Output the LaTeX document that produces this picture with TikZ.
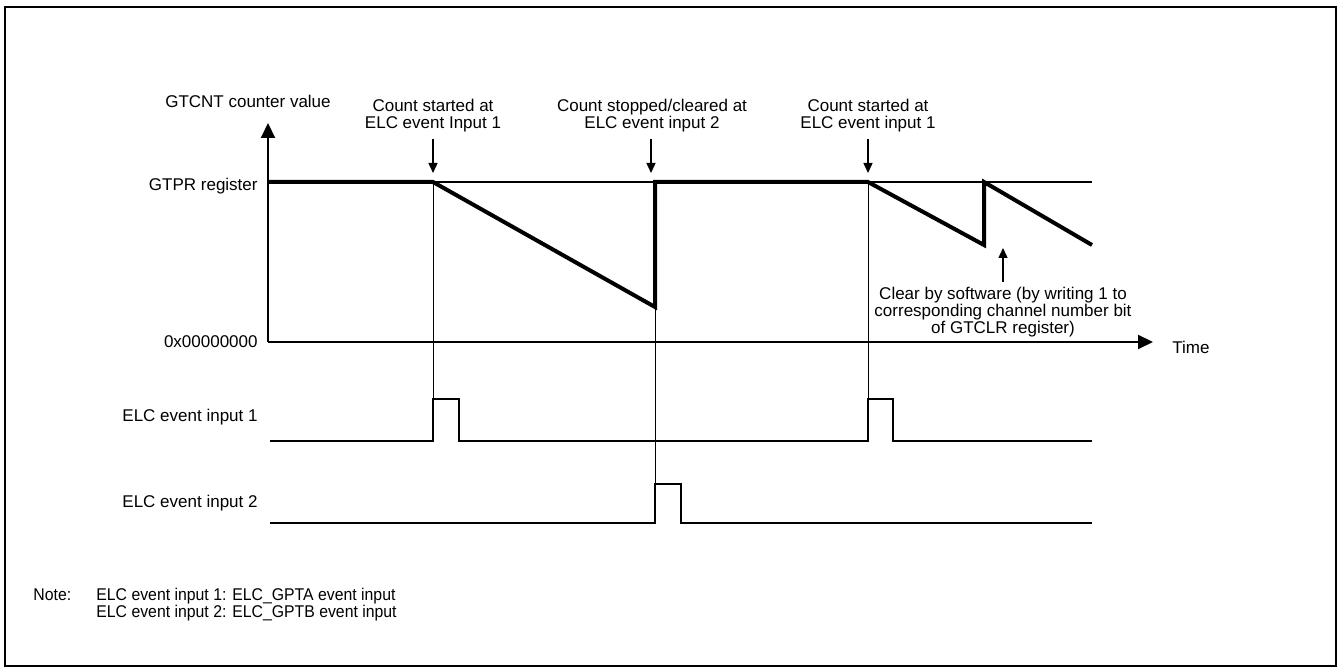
\documentclass[tikz,border=0pt]{standalone}
\usepackage{fontspec}
\setmainfont{Liberation Sans}
\newfontfamily\narrowfont[FakeStretch=0.93]{Liberation Sans}
\usetikzlibrary{arrows.meta}
\begin{document}
\begin{tikzpicture}[x=0.5pt,y=-0.5pt,
  lbl/.style={font=\fontsize{8.5}{8.6}\selectfont, inner sep=0pt, align=center},
  notelbl/.style={font=\narrowfont\fontsize{8.5}{8.2}\selectfont, inner sep=0pt, align=left},
  axis/.style={line width=1pt, -{Triangle[length=7.5pt,width=7pt]}},
  wave/.style={line width=2pt, line join=miter},
  pulse/.style={line width=1pt, line join=miter},
  guide/.style={line width=0.5pt},
  dn/.style={line width=0.7pt, -{Triangle[length=5pt,width=4.5pt]}}]
\useasboundingbox (0,0) rectangle (1338,668);
\draw[line width=0.8pt] (5,7) rectangle (1336,666);

% left labels
\node[lbl] (ylab) at (248,101) {GTCNT counter value};
\node[lbl,anchor=east] (gtpr) at (258,186) {GTPR register};
\node[lbl,anchor=east] (zero) at (258,342) {0x00000000};
\node[lbl,anchor=east] (ev1) at (258,417) {ELC event input 1};
\node[lbl,anchor=east] (ev2) at (258,503) {ELC event input 2};
\node[lbl,anchor=west] (time) at (1172,347) {Time};

% top labels
\node[lbl] (c1) at (433,116) {Count started at\\ELC event Input 1};
\node[lbl] (c2) at (652,116) {Count stopped/cleared at\\ELC event input 2};
\node[lbl] (c3) at (868,116) {Count started at\\ELC event input 1};
\node[lbl] (clr) at (1003,312) {Clear by software (by writing 1 to\\corresponding channel number bit\\of GTCLR register)};

% coordinates
\coordinate (o) at (268,342);
\coordinate (ytop) at (268,123);
\coordinate (xend) at (1153,342);
\coordinate (a1) at (433,139); \coordinate (a1e) at (433,173);
\coordinate (a2) at (651,139); \coordinate (a2e) at (651,173);
\coordinate (a3) at (868,139); \coordinate (a3e) at (868,173);
\coordinate (u1) at (1003,282); \coordinate (u1e) at (1003,248);

% axes
\draw[axis] (o) -- (ytop);
\draw[axis] (o) -- (xend);

% GTPR level
\draw[line width=0.6pt] (268,182) -- (1092,182);

% counter waveform
\draw[wave] (268,182) -- (433,182) -- (655,307) -- (655,182) -- (868,182)
  -- (984,245) -- (984,182) -- (1092,245);

% guide lines
\draw[guide] (433,182) -- (433,399);
\draw[guide] (655,307) -- (655,484);
\draw[guide] (868,182) -- (868,399);

% event pulses
\draw[pulse] (270,441) -- (433,441) -- (433,399) -- (459,399) -- (459,441)
  -- (868,441) -- (868,399) -- (893,399) -- (893,441) -- (1092,441);
\draw[pulse] (270,523) -- (655,523) -- (655,484) -- (681,484) -- (681,523) -- (1092,523);

% marker arrows
\draw[dn] (a1) -- (a1e);
\draw[dn] (a2) -- (a2e);
\draw[dn] (a3) -- (a3e);
\draw[dn] (u1) -- (u1e);

% note
\node[notelbl,anchor=west] (note) at (33,595) {Note:};
\node[notelbl,anchor=north west] (notetxt) at (96,588) {ELC event input 1: ELC\_GPTA event input\\ELC event input 2: ELC\_GPTB event input};
\end{tikzpicture}
\end{document}
